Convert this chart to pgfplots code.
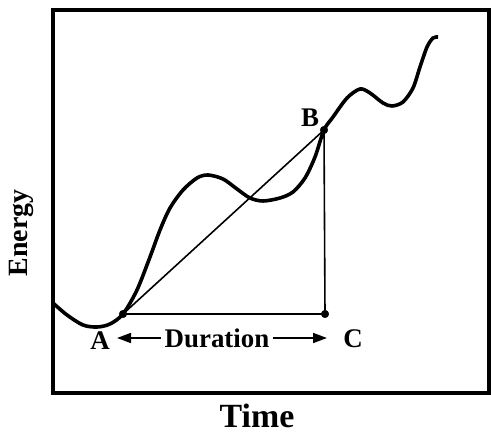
\documentclass[border=0pt]{standalone}
\usepackage{pgfplots}
\pgfplotsset{compat=1.18}
\usepackage{fontspec}
\setmainfont{Liberation Serif}
\usetikzlibrary{arrows.meta}
\begin{document}
\begin{tikzpicture}
\useasboundingbox (0,0) rectangle (491bp,434bp);
\begin{axis}[at={(53bp,41bp)}, anchor=south west, scale only axis,
  width=436bp, height=383bp, xmin=53, xmax=489, ymin=41, ymax=424,
  ticks=none, axis line style={line width=3.2bp}, clip=false]
% energy curve (y = 434 - pixel row)
\addplot[black, line width=3.6bp, smooth, tension=0.5] coordinates {
(53,131) (67,119) (83,109) (97,107) (110,110) (123,120) (137,144) (150,177)
(160,204) (170,226) (183,244) (197,256) (208,259) (223,255) (237,245)
(250,236) (263,233) (280,236) (293,242) (305,256) (315,277) (324,304)
(333,317) (347,336) (360,345) (370,341) (383,331) (392,328) (403,332)
(413,346) (420,367) (427,387) (433,396) (438,397)};
% chord A-B, B-C, A-C
\addplot[black, line width=1.6bp] coordinates {(123,120) (324,304)};
\addplot[black, line width=1.6bp] coordinates {(324,304) (325,120)};
\addplot[black, line width=1.6bp] coordinates {(123,120) (325,120)};
\addplot[only marks, mark=*, mark size=3.8bp, black] coordinates {(123,120) (324,304) (325,120)};
% duration arrows
\addplot[black, line width=1.6bp, -{Triangle[length=14bp,width=10bp]}] coordinates {(161,96) (117,96)};
\addplot[black, line width=1.6bp, -{Triangle[length=14bp,width=10bp]}] coordinates {(273,96) (327,96)};
\node[font=\bfseries\fontsize{27}{27}\selectfont] at (axis cs:217,96) {Duration};
\node[font=\bfseries\fontsize{27}{27}\selectfont] at (axis cs:100,93) {A};
\node[font=\bfseries\fontsize{27}{27}\selectfont] at (axis cs:353,95) {C};
\node[font=\bfseries\fontsize{27}{27}\selectfont] at (axis cs:310,316) {B};
\node[font=\bfseries\fontsize{34}{34}\selectfont, inner sep=0pt, anchor=base] at (axis cs:257,7) {Time};
\node[font=\bfseries\fontsize{28}{28}\selectfont, rotate=90] at (axis cs:21,201) {Energy};
\end{axis}
\end{tikzpicture}
\end{document}
